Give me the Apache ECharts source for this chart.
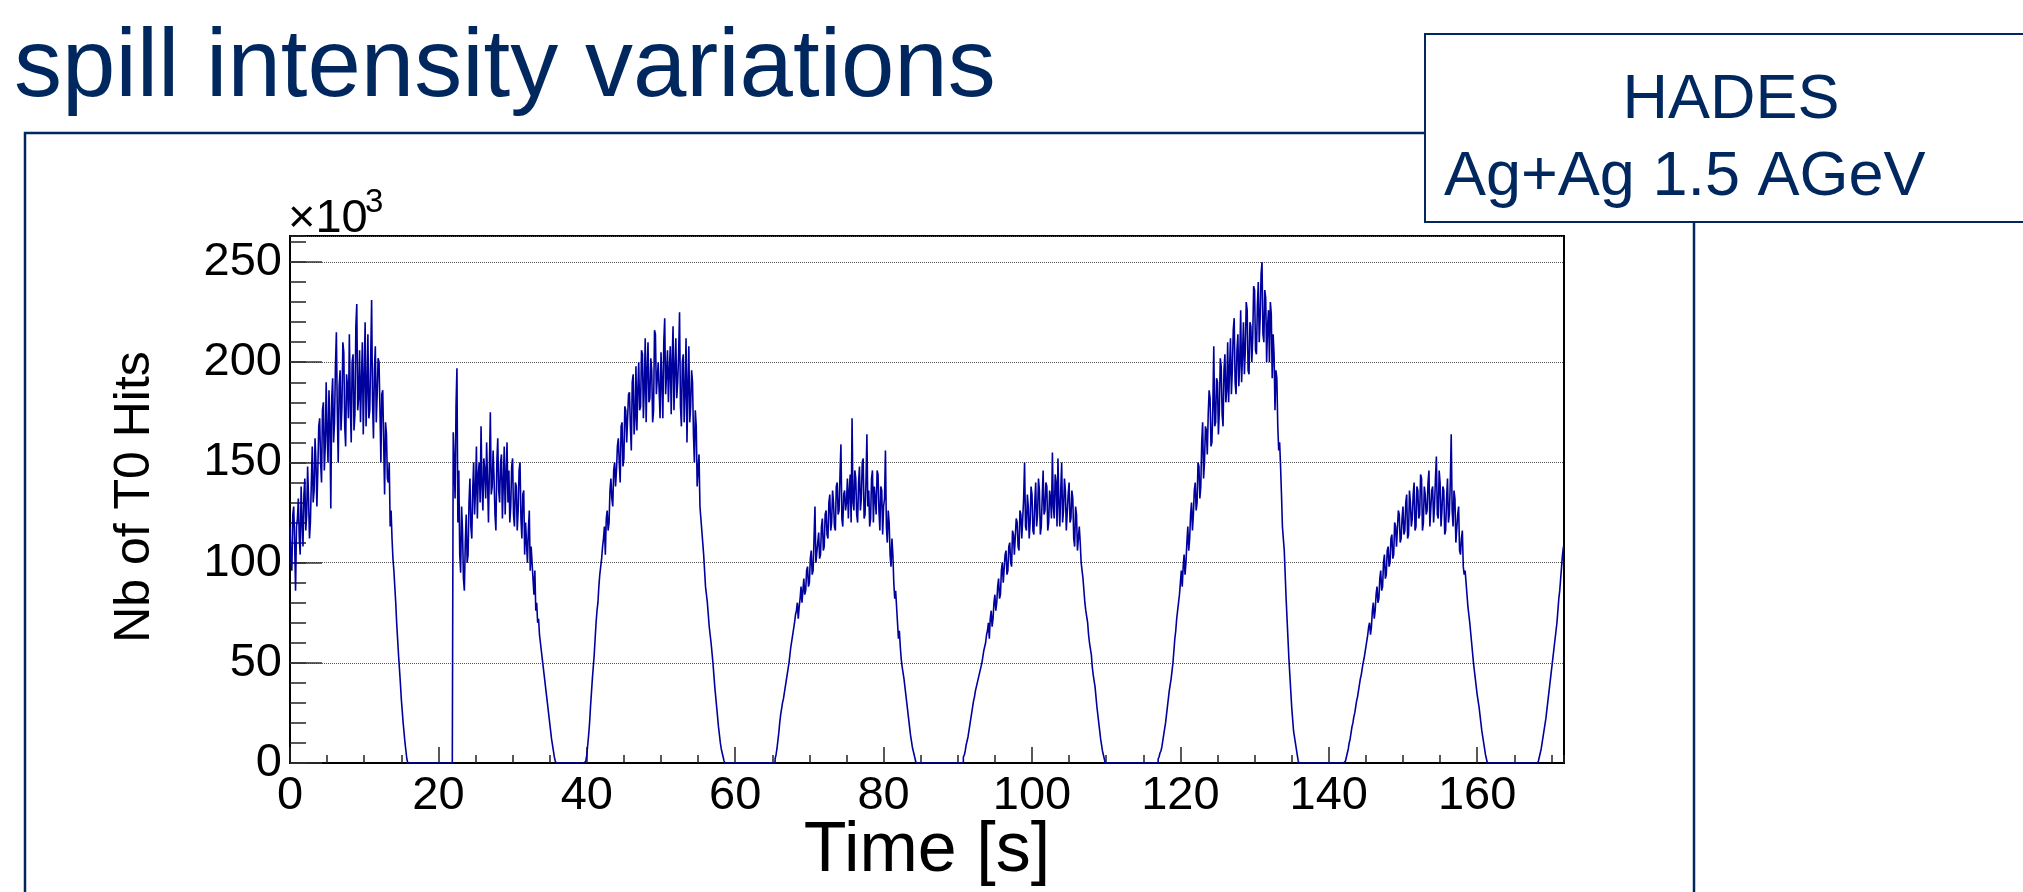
<!DOCTYPE html>
<html>
<head>
<meta charset="utf-8">
<script src="https://cdn.jsdelivr.net/npm/echarts@6/dist/echarts.min.js"></script>
<style>
html,body{margin:0;padding:0;background:#ffffff;}
#chart{width:2023px;height:892px;}
</style>
</head>
<body>
<div id="chart"></div>
<script>
// ---- data (T0 hits per 0.125 s bin, in units of 10^3) ----
const binWidth = 0.125;
const xMax = 171.7;
const yMax = 263;
const xTickStep = 20;
const yTickStep = 50;
const titleText = 'spill intensity variations';
const boxLine1 = 'HADES';
const boxLine2 = 'Ag+Ag 1.5 AGeV';
const xTitle = 'Time [s]';
const yTitle = 'Nb of T0 Hits';

const spillStarts = [0, 22.0, 39.75, 65.25, 90.75, 117.0, 142.25, 168.25];
const spill1 = [118,102,96,124,128,110,86,118,122,132,112,104,138,120,108,134,
142,116,124,148,132,112,120,140,158,130,136,162,150,128,146,168,
172,150,140,176,180,146,158,190,164,150,186,170,127,182,192,160,
170,198,215,176,150,188,196,166,178,210,205,168,158,194,188,172,
214,180,160,200,204,166,174,218,229,176,182,206,170,190,210,164,
192,220,168,186,214,172,176,202,231,180,162,196,208,170,184,202,
200,176,150,184,186,160,134,170,164,142,140,150,118,126,112,102,
96,88,80,70,62,54,47,40,32,26,20,15,10,6,2,0];
const spill2 = [165,150,132,178,197,120,146,104,95,128,116,92,86,110,124,100,
104,130,142,118,112,136,150,124,136,158,122,144,150,130,168,138,
126,152,146,132,160,140,120,148,175,134,138,156,142,124,116,150,
162,136,130,150,154,122,140,158,124,144,160,130,146,120,128,148,
152,124,118,140,138,116,126,146,150,122,112,134,136,104,120,110,
100,116,126,96,108,100,92,84,96,76,80,70,72,64,60,56,
52,48,44,40,36,32,28,24,20,16,12,9,6,3,1,0];
const spill3 = [0,1,4,9,14,20,28,35,42,48,54,62,70,76,80,88,
94,98,102,108,112,118,104,122,126,116,120,136,142,132,128,146,
150,138,146,158,162,150,140,168,170,148,152,178,176,160,160,184,
185,168,156,190,194,164,172,198,166,186,200,176,178,206,204,172,
188,212,170,196,210,180,182,202,196,170,176,216,214,184,192,200,
186,172,205,190,172,210,222,184,194,206,180,196,208,174,200,218,
176,196,212,182,190,204,225,178,168,200,204,170,186,212,160,188,
208,170,178,196,190,164,150,176,168,138,146,154,128,122,116,110,
104,96,88,84,80,74,68,64,60,55,50,44,38,33,28,23,
18,14,10,7,5,3,1,0];
const spill4 = [0,2,4,7,11,15,20,24,27,30,32,35,38,41,44,47,
50,54,58,61,64,67,70,74,76,80,72,78,82,88,80,86,
92,84,86,96,98,88,90,102,106,94,96,112,128,100,100,110,
115,102,104,118,122,106,108,124,126,114,112,130,134,116,120,136,
130,118,116,138,140,124,126,144,159,122,118,134,136,126,130,142,
122,136,144,120,172,130,126,146,142,124,120,140,148,126,132,150,
152,122,124,140,164,128,136,118,122,142,146,120,138,132,124,146,
144,126,116,138,136,114,128,132,156,118,110,126,120,104,98,112,
104,90,82,86,78,70,62,66,58,52,48,45,42,38,34,30,
26,22,18,14,11,8,6,4,2,0];
const spill5 = [3,4,6,9,11,13,16,19,22,25,28,31,33,36,38,40,
42,44,46,48,50,53,56,58,60,64,66,70,62,72,76,68,
72,80,84,76,80,88,92,82,84,96,100,90,90,104,106,94,
96,108,110,100,98,116,114,104,104,122,120,108,106,126,124,112,
112,132,150,118,116,134,128,112,120,138,134,116,114,130,140,118,
124,142,136,114,118,132,146,124,126,140,138,116,120,136,132,122,
155,128,122,144,140,118,152,130,118,136,150,120,126,142,136,116,
116,134,140,120,122,136,132,112,108,128,124,106,112,118,110,100,
96,92,86,80,76,73,70,64,60,57,54,48,44,41,38,33,
28,24,20,16,12,9,6,4,2,0];
const spill6 = [2,3,5,6,8,11,14,17,20,24,28,32,36,39,42,46,
50,56,62,66,72,76,80,84,90,96,88,98,104,94,100,110,
118,106,112,124,130,116,124,136,140,126,130,150,148,132,138,160,
170,142,150,168,166,154,174,186,182,158,160,178,208,168,170,192,
190,164,176,202,198,174,168,196,204,180,186,210,180,196,212,184,
196,216,222,190,184,206,214,188,200,226,190,204,220,194,206,230,
226,196,194,220,218,200,212,238,236,206,204,228,240,210,222,244,
250,214,210,236,232,200,218,226,200,230,224,192,214,204,176,196,
192,168,156,160,148,134,118,112,106,94,82,72,62,52,44,36,
28,22,16,13,10,7,4,1];
const spill7 = [1,3,5,7,10,12,15,18,20,23,25,28,31,33,36,39,
42,44,47,50,52,55,58,61,64,68,70,64,68,76,80,72,
76,84,88,80,82,92,96,86,88,100,104,92,94,106,108,98,
100,112,114,102,104,120,118,108,108,126,124,110,112,122,128,114,
116,130,134,112,114,136,130,118,122,134,140,116,118,138,136,122,
124,144,142,116,120,138,134,124,126,140,146,118,118,136,138,120,
128,142,153,124,122,146,140,118,126,138,136,114,116,132,142,120,
124,140,164,126,118,136,132,110,110,124,128,106,104,112,116,98,
94,96,90,84,78,74,70,65,60,55,50,46,42,38,34,31,
28,24,20,16,13,10,7,4,2,0];
const spill8 = [1,3,5,7,10,13,16,19,22,26,30,34,38,42,46,50,54,58,62,66,70,76,82,86,92,98,104,108];
const spills = [spill1, spill2, spill3, spill4, spill5, spill6, spill7, spill8];

// ---- build histogram (bins outside spills are empty) ----
const nBins = Math.ceil(xMax / binWidth);
const hits = new Array(nBins).fill(0);
spills.forEach(function (arr, k) {
  const i0 = Math.round(spillStarts[k] / binWidth);
  arr.forEach(function (v, j) { if (i0 + j < nBins) hits[i0 + j] = v; });
});
const histData = hits.map(function (v, i) { return [i * binWidth, v]; });

// ---- styling ----
const navy = '#00285f';
const lineBlue = '#00009e';
const FONT = 'Liberation Sans, Arial, Helvetica, sans-serif';

const chart = echarts.init(document.getElementById('chart'), null, {renderer: 'canvas'});
chart.setOption({
  animation: false,
  backgroundColor: '#ffffff',
  grid: {left: 290, top: 236, width: 1274, height: 527, show: true, borderColor: '#000', borderWidth: 2, backgroundColor: 'transparent', containLabel: false},
  xAxis: [
    {type: 'value', min: 0, max: xMax, interval: 5, position: 'bottom',
     axisLine: {show: true, onZero: false, lineStyle: {color: '#000', width: 2}},
     axisTick: {show: true, inside: true, length: 8, lineStyle: {color: '#222', width: 1.5}},
     axisLabel: {show: false}, splitLine: {show: false}},
    {type: 'value', min: 0, max: xMax, interval: xTickStep, position: 'bottom',
     axisLine: {show: false, onZero: false},
     axisTick: {show: true, inside: true, length: 16, lineStyle: {color: '#222', width: 1.5}},
     axisLabel: {show: true, margin: 10, fontSize: 47, fontFamily: FONT, color: '#000', showMaxLabel: false, showMinLabel: true},
     splitLine: {show: false}}
  ],
  yAxis: [
    {type: 'value', min: 0, max: yMax, interval: 10, position: 'left',
     axisLine: {show: true, onZero: false, lineStyle: {color: '#000', width: 2}},
     axisTick: {show: true, inside: true, length: 16, lineStyle: {color: '#222', width: 1.5}},
     axisLabel: {show: false}, splitLine: {show: false}},
    {type: 'value', min: 0, max: yMax, interval: yTickStep, position: 'left',
     axisLine: {show: false, onZero: false},
     axisTick: {show: true, inside: true, length: 32, lineStyle: {color: '#333', width: 1.5}},
     axisLabel: {show: true, margin: 8, fontSize: 47, fontFamily: FONT, color: '#000', showMaxLabel: false, showMinLabel: true},
     splitLine: {show: true, lineStyle: {color: '#555', width: 1, type: 'dotted'}}}
  ],
  series: [{
    type: 'line', xAxisIndex: 0, yAxisIndex: 0, data: histData, step: 'end',
    showSymbol: false, symbol: 'none', clip: true,
    lineStyle: {color: lineBlue, width: 1.6}, z: 3
  }],
  graphic: [
    {type: 'rect', z: 1, silent: true, shape: {x: 25, y: 133, width: 1669, height: 900},
     style: {fill: 'none', stroke: navy, lineWidth: 2.5}},
    {type: 'rect', z: 5, silent: true, shape: {x: 1425, y: 34, width: 700, height: 188},
     style: {fill: '#ffffff', stroke: navy, lineWidth: 2}},
    {type: 'text', z: 6, silent: true, x: 14, y: 69.5,
     style: {text: titleText, font: '96px ' + FONT, fill: navy, align: 'left', verticalAlign: 'middle'}},
    {type: 'text', z: 6, silent: true, x: 1731, y: 100.5,
     style: {text: boxLine1, font: '63px ' + FONT, fill: navy, align: 'center', verticalAlign: 'middle'}},
    {type: 'text', z: 6, silent: true, x: 1444, y: 177.2,
     style: {text: boxLine2, font: '63px ' + FONT, fill: navy, align: 'left', verticalAlign: 'middle'}},
    {type: 'text', z: 6, silent: true, x: 288, y: 219,
     style: {text: '\u00d710', font: '47px ' + FONT, fill: '#000', align: 'left', verticalAlign: 'middle'}},
    {type: 'text', z: 6, silent: true, x: 365, y: 203,
     style: {text: '3', font: '33px ' + FONT, fill: '#000', align: 'left', verticalAlign: 'middle'}},
    {type: 'text', z: 6, silent: true, x: 927, y: 852,
     style: {text: xTitle, font: '70px ' + FONT, fill: '#000', align: 'center', verticalAlign: 'middle'}},
    {type: 'text', z: 6, silent: true, x: 135, y: 497, rotation: Math.PI / 2,
     style: {text: yTitle, font: '50px ' + FONT, fill: '#000', align: 'center', verticalAlign: 'middle'}}
  ]
});
</script>
</body>
</html>
